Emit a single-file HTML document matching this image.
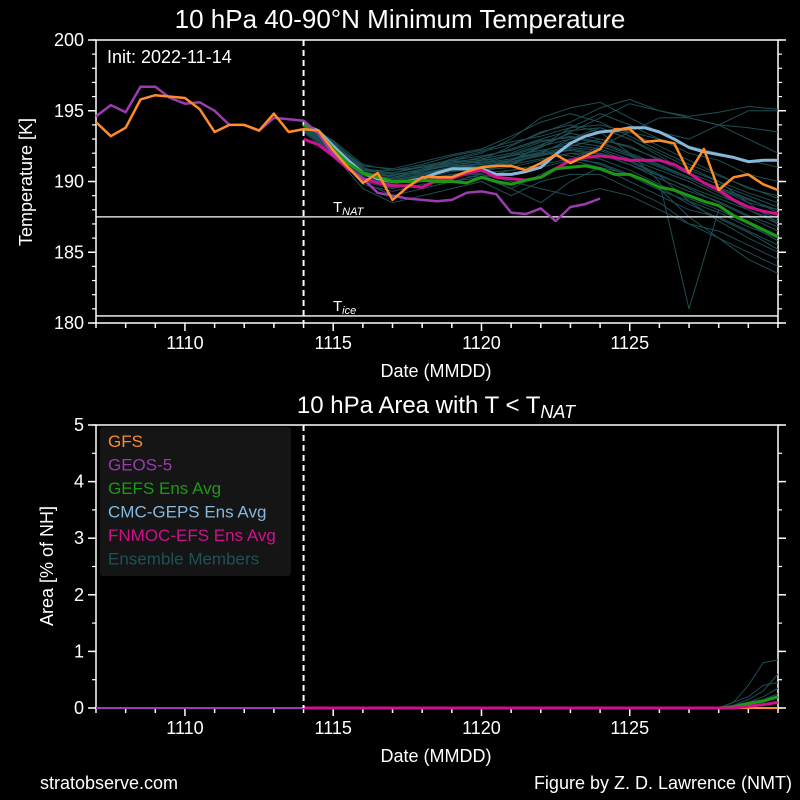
<!DOCTYPE html>
<html><head><meta charset="utf-8">
<style>
html,body{margin:0;padding:0;background:#000;}
svg{display:block;font-family:"Liberation Sans",sans-serif;}
</style></head>
<body>
<svg id="chart" width="800" height="800" viewBox="0 0 800 800">
<rect x="0" y="0" width="800" height="800" fill="#000"/>
<g id="topPanel"></g>
<g id="botPanel"></g>
</svg>
<script>
// ---------- data ----------
const anDays0 = 7;
const fcDay0 = 14;
const gfsT = [194.2,193.2,193.8,195.8,196.1,196.0,195.9,195.1,193.5,194.0,194.0,193.6,194.8,193.5,193.7,
  193.6,192.2,191.0,189.9,190.6,188.7,189.6,190.3,190.3,
  190.3,190.7,191.0,191.1,191.1,190.8,191.3,191.9,191.3,191.8,192.3,193.7,193.7,192.8,192.9,192.7,190.6,192.3,189.4,190.3,190.5,189.8,189.4];
const geosT = [194.6,195.4,194.9,196.7,196.7,195.9,195.5,195.6,195.0,194.0,194.0,193.6,194.5,194.4,194.3,
  193.4,191.9,191.0,190.2,189.2,189.0,188.8,188.7,188.6,
  188.7,189.2,189.3,189.1,187.8,187.7,188.1,187.2,188.2,188.4,188.8];
const gefsT = [194.0,193.5,192.3,191.3,190.6,190.3,190.0,190.0,190.1,190.0,190.0,189.9,190.3,190.0,189.8,190.1,190.3,190.9,191.0,191.1,190.9,190.5,190.5,190.1,189.6,189.4,189.0,188.6,188.3,187.6,187.1,186.6,186.1];
const cmcT = [194.0,193.6,192.5,191.5,190.6,190.2,190.0,190.0,190.2,190.6,190.9,190.9,190.9,190.5,190.5,190.7,191.0,191.9,192.7,193.2,193.5,193.6,193.8,193.8,193.5,193.0,192.4,192.1,191.9,191.7,191.4,191.5,191.5];
const fnmocT = [193.0,192.6,191.8,190.9,190.2,189.9,189.7,189.7,189.6,190.1,190.2,190.6,190.8,190.3,190.2,190.1,190.3,190.9,191.5,191.7,191.8,191.7,191.5,191.5,191.5,191.2,190.6,189.9,189.4,188.7,188.2,187.9,187.7];
const mem1 = [194.3,192.8,190.8,190.5,190.6,191.0,191.2,191.5,192.4,193.5,194.5,195.5,195.0,194.5,194.0,193.8,193.5];
const mem2 = [194.0,192.5,190.3,189.5,190.0,190.5,190.8,191.2,192.0,193.0,193.8,193.0,192.0,191.0,190.0,188.5,187.0];
const mem3 = [193.8,192.0,190.0,189.0,189.5,190.0,190.5,190.0,189.5,189.0,189.5,189.0,188.0,187.0,186.0,185.0,184.0];
const mem4 = [194.2,192.8,191.0,190.3,190.8,191.5,192.0,193.0,194.5,195.2,195.6,194.5,193.5,193.0,194.0,195.0,195.0];
const mem5 = [193.5,191.8,190.2,189.8,190.2,190.5,190.3,189.5,188.5,190.0,191.0,190.5,189.5,187.5,186.0,184.5,183.5];
const mem6 = [194.0,192.3,190.5,190.0,190.3,190.8,191.0,191.5,192.0,192.5,193.0,192.5,191.5,190.5,189.5,188.5,188.0];
const mem7 = [193.9,192.6,190.8,190.8,191.0,191.3,191.5,191.8,192.5,193.8,194.8,194.0,193.0,192.5,192.0,191.5,191.0];
const mem8 = [194.1,192.2,189.8,189.3,189.8,190.0,190.3,190.8,191.0,191.5,191.0,190.0,189.0,188.0,187.5,186.5,185.5];
const mem9 = [193.6,192.0,190.2,190.0,190.5,191.0,191.5,192.5,193.5,194.0,193.5,192.0,190.0,181.0,188.0,187.0,186.0];
const mem10 = [194.0,192.7,190.5,190.2,190.8,191.2,191.0,191.5,192.5,193.0,193.5,193.5,193.0,192.0,191.5,190.5,190.0];
const mem11 = [193.7,191.9,189.5,188.5,189.0,189.5,190.0,189.0,190.0,190.5,190.5,189.5,188.5,187.0,186.5,185.5,184.5];
const mem12 = [194.2,192.9,191.2,190.8,191.2,191.8,192.2,192.8,193.2,193.8,194.0,193.5,192.5,191.5,190.5,189.5,189.0];
const mem13 = [193.8,192.4,190.6,190.1,190.4,190.8,190.8,191.0,191.5,192.0,192.0,191.5,190.5,189.5,188.5,187.5,186.5];
const mem14 = [194.0,192.5,190.0,189.5,190.0,190.5,190.5,189.5,190.5,191.5,192.5,193.5,194.5,194.5,194.0,193.0,192.0];
const mem15 = [193.9,192.3,190.6,190.4,190.9,191.4,191.6,192.0,192.8,193.2,192.8,192.0,191.2,190.3,189.5,188.7,188.0];
const mem16 = [194.1,192.6,190.9,190.6,191.1,191.5,191.3,191.8,192.2,192.6,192.3,191.6,190.8,190.0,189.0,188.2,187.4];
const mem17 = [193.7,192.1,190.4,190.0,190.5,190.9,191.1,191.4,191.8,192.3,192.0,191.2,190.2,189.3,188.6,187.6,186.8];
const mem18 = [194.0,192.4,190.7,190.3,190.7,191.2,191.4,191.9,192.6,193.4,193.0,192.4,191.6,190.8,190.0,189.2,188.5];
const mem19 = [193.8,192.2,190.3,189.8,190.2,190.7,190.9,191.2,191.6,192.0,191.6,190.8,189.8,188.8,188.0,187.0,185.8];
const mem20 = [194.2,192.7,191.1,190.9,191.4,191.9,192.3,193.2,194.2,194.8,194.2,193.2,192.2,191.2,190.4,189.6,188.8];
const mem21 = [193.6,192.0,190.1,189.6,190.0,190.4,190.6,190.8,191.2,191.6,191.3,190.5,189.6,188.4,187.4,186.4,185.2];
const mem22 = [194.0,192.5,190.6,190.2,190.6,191.0,191.3,191.6,192.1,192.8,192.5,191.8,191.0,190.2,189.2,188.0,187.2];
const mem23 = [193.9,192.3,190.4,190.2,190.8,191.3,191.7,192.3,193.0,193.6,193.8,193.0,191.8,190.6,189.8,189.0,188.2];
const mem24 = [194.1,192.6,190.8,190.5,190.8,191.1,191.0,191.3,191.9,192.4,192.2,191.4,190.4,189.6,188.8,188.0,187.0];
const mem25 = [193.8,192.1,190.2,189.9,190.4,191.0,191.3,191.6,192.0,191.8,191.2,190.4,189.4,188.6,187.8,186.8,186.0];
const mem26 = [194.0,192.5,190.5,190.4,190.9,191.6,192.1,192.6,193.4,194.2,195.2,195.8,195.0,194.6,194.9,195.3,195.1];
const mem27 = [193.7,192.2,190.5,190.1,190.5,190.8,191.0,191.4,191.9,192.2,191.9,191.2,190.4,188.6,187.2,186.0,185.0];
const mem28 = [194.2,192.8,190.9,190.6,191.0,191.5,191.8,192.2,192.9,193.1,192.7,191.9,191.1,190.3,189.6,188.8,187.8];
const members = [mem1,mem2,mem3,mem4,mem5,mem6,mem7,mem8,mem9,mem10,mem11,mem12,mem13,mem14,mem15,mem16,mem17,mem18,mem19,mem20,mem21,mem22,mem23,mem24,mem25,mem26,mem27,mem28];
const areaDay0 = 28;
const areaMem1 = [0,0.1,0.4,0.8,0.85];
const areaMem2 = [0,0.05,0.15,0.3,0.6];
const areaMem3 = [0,0.1,0.2,0.4,0.45];
const areaMem4 = [0,0,0.1,0.2,0.35];
const areaMem5 = [0,0.05,0.1,0.15,0.25];
const areaMembers = [areaMem1,areaMem2,areaMem3,areaMem4,areaMem5];
const areaGefs = [0,0.02,0.08,0.12,0.2];
const areaFnmoc = [0,0,0.03,0.06,0.1];
const xTicks = [10,15,20,25];
const xTickLabels = ["1110","1115","1120","1125"];
const tTicks = [180,185,190,195,200];
const aTicks = [0,1,2,3,4,5];
const tNAT = 187.5, tIce = 180.5;

// ---------- layout ----------
const X0=96, X1=778, D0=7, D1=30;
const xs = d => X0 + (d-D0)*(X1-X0)/(D1-D0);
const TT=40, TB=323, T0=180, T1=200;
const yT = t => TB - (t-T0)*(TB-TT)/(T1-T0);
const BT=425, BB=708;
const yA = a => BB - a*(BB-BT)/5;
const NS='http://www.w3.org/2000/svg';
const C = {gfs:'#ff8c2a', geos:'#9b3bb0', gefs:'#1c9a12', cmc:'#86b8dc', fnmoc:'#d0108c', mem:'#1e4f54'};

function mk(tag, attrs, parent){const e=document.createElementNS(NS,tag);for(const k in attrs)e.setAttribute(k,attrs[k]);parent.appendChild(e);return e;}
function line(parent, pts, color, w, name){
  const p=mk('polyline',{points:pts.map(q=>q[0].toFixed(1)+','+q[1].toFixed(1)).join(' '),fill:'none',stroke:color,'stroke-width':w,'stroke-linejoin':'round'},parent);
  
  
  return p;
}
function txt(parent, x, y, s, size, anchor, color, name){
  const t=mk('text',{x:x,y:y,'font-size':size,'text-anchor':anchor||'start',fill:color||'#fff'},parent);
  t.textContent=s;
  
  
  return t;
}
function frame(g, yTop, yBot, minorVals, majorVals, yfun, labelFmt, prefix){
  mk('rect',{x:X0,y:yTop,width:X1-X0,height:yBot-yTop,fill:'none',stroke:'#fff','stroke-width':1.5},g);
  for(let d=D0; d<=D1; d++){
    const major = xTicks.indexOf(d)>=0;
    mk('line',{x1:xs(d),x2:xs(d),y1:yBot,y2:yBot+(major?8:5),stroke:'#fff','stroke-width':1.5},g);
  }
  xTicks.forEach((d,i)=>txt(g,xs(d),yBot+26,xTickLabels[i],18,'middle','#fff',prefix+'-x-tick-'+xTickLabels[i]));
  minorVals.forEach(v=>{
    const y=yfun(v);
    mk('line',{x1:X0-4,x2:X0,y1:y,y2:y,stroke:'#fff','stroke-width':1.2},g);
    mk('line',{x1:X1,x2:X1+4,y1:y,y2:y,stroke:'#fff','stroke-width':1.2},g);
  });
  majorVals.forEach(v=>{
    const y=yfun(v);
    mk('line',{x1:X0-8,x2:X0,y1:y,y2:y,stroke:'#fff','stroke-width':1.5},g);
    mk('line',{x1:X1,x2:X1+8,y1:y,y2:y,stroke:'#fff','stroke-width':1.5},g);
    txt(g,X0-12,y+6,labelFmt(v),18,'end','#fff',prefix+'-y-tick-'+v);
  });
}

// ---------- top panel ----------
const topG=document.getElementById('topPanel');
txt(topG,400,28,'10 hPa  40-90°N Minimum Temperature',26,'middle','#fff','top-title');
const tMinor=[]; for(let t=T0;t<=T1;t++) tMinor.push(t);
frame(topG,TT,TB,tMinor,tTicks,yT,v=>String(v),'top');
txt(topG,107,63,'Init: 2022-11-14',18,'start','#fff','init-label');
members.forEach((m,i)=>line(topG,m.map((v,j)=>[xs(fcDay0+j),yT(v)]),C.mem,1,'ensemble-member-'+(i+1)));
mk('line',{x1:X0,x2:X1,y1:yT(tNAT),y2:yT(tNAT),stroke:'#fff','stroke-width':1.3},topG);
mk('line',{x1:X0,x2:X1,y1:yT(tIce),y2:yT(tIce),stroke:'#fff','stroke-width':1.3},topG);
const tn=txt(topG,333,yT(tNAT)-5,'T',15,'start','#fff','tnat-label');
const tns=mk('tspan',{'font-size':11,'font-style':'italic',dy:3},tn); tns.textContent='NAT';
const ti=txt(topG,333,yT(tIce)-5,'T',15,'start','#fff','tice-label');
const tis=mk('tspan',{'font-size':11,'font-style':'italic',dy:3},ti); tis.textContent='ice';
mk('line',{x1:xs(fcDay0),x2:xs(fcDay0),y1:TT,y2:TB,stroke:'#fff','stroke-width':2,'stroke-dasharray':'6,4'},topG);
line(topG,cmcT.map((v,j)=>[xs(fcDay0+j*0.5),yT(v)]),C.cmc,3,'cmc-geps-line');
line(topG,fnmocT.map((v,j)=>[xs(fcDay0+j*0.5),yT(v)]),C.fnmoc,3,'fnmoc-line');
line(topG,gefsT.map((v,j)=>[xs(fcDay0+j*0.5),yT(v)]),C.gefs,3,'gefs-line');
line(topG,geosT.map((v,j)=>[xs(anDays0+j*0.5),yT(v)]),C.geos,2.5,'geos-line');
line(topG,gfsT.map((v,j)=>[xs(anDays0+j*0.5),yT(v)]),C.gfs,2.5,'gfs-line');
txt(topG,436,377,'Date (MMDD)',18,'middle','#fff','top-x-axis-title');
const yt1=txt(topG,0,0,'Temperature  [K]',18,'middle','#fff','top-y-axis-title');
yt1.setAttribute('transform','translate(32,182) rotate(-90)');

// ---------- bottom panel ----------
const botG=document.getElementById('botPanel');
const bt=txt(botG,436,413,'10 hPa Area with T < T',24,'middle','#fff','bottom-title');
const bts=mk('tspan',{'font-size':18,'font-style':'italic',dy:5},bt); bts.textContent='NAT';
const aMinor=[]; for(let a=0;a<=5;a+=0.5) aMinor.push(a);
frame(botG,BT,BB,aMinor,aTicks,yA,v=>String(v),'bottom');
line(botG,[[xs(D0),yA(0)],[xs(D1),yA(0)]],C.gfs,2,'gfs-area-line');
line(botG,[[xs(D0),yA(0)],[xs(fcDay0+10),yA(0)]],C.geos,2,'geos-area-line');
areaMembers.forEach((m,i)=>line(botG,[[xs(fcDay0),yA(0)]].concat(m.map((v,j)=>[xs(areaDay0+j*0.5),yA(v)])),C.mem,1,'area-member-'+(i+1)));
line(botG,[[xs(fcDay0),yA(0)]].concat(areaGefs.map((v,j)=>[xs(areaDay0+j*0.5),yA(v)])),C.gefs,3,'gefs-area-line');
line(botG,[[xs(fcDay0),yA(0)]].concat(areaFnmoc.map((v,j)=>[xs(areaDay0+j*0.5),yA(v)])),C.fnmoc,3,'fnmoc-area-line');
mk('line',{x1:xs(fcDay0),x2:xs(fcDay0),y1:BT,y2:BB,stroke:'#fff','stroke-width':2,'stroke-dasharray':'6,4'},botG);
const lg=mk('g',{},botG);


mk('rect',{x:100,y:427,width:191,height:149,rx:3,fill:'#151515'},lg);
const legItems=[['GFS',C.gfs],['GEOS-5',C.geos],['GEFS Ens Avg',C.gefs],['CMC-GEPS Ens Avg',C.cmc],['FNMOC-EFS Ens Avg',C.fnmoc],['Ensemble Members','#1e5258']];
legItems.forEach((it,i)=>txt(lg,108,447+i*23.5,it[0],17,'start',it[1],'legend-entry-'+(i+1)));
txt(botG,436,762,'Date (MMDD)',18,'middle','#fff','bottom-x-axis-title');
const yt2=txt(botG,0,0,'Area [% of NH]',18,'middle','#fff','bottom-y-axis-title');
yt2.setAttribute('transform','translate(53,566) rotate(-90)');

txt(botG,40,789,'stratobserve.com',18,'start','#fff','footer-source');
txt(botG,792,789,'Figure by Z. D. Lawrence (NMT)',18,'end','#fff','footer-credit');
</script>
</body></html>
